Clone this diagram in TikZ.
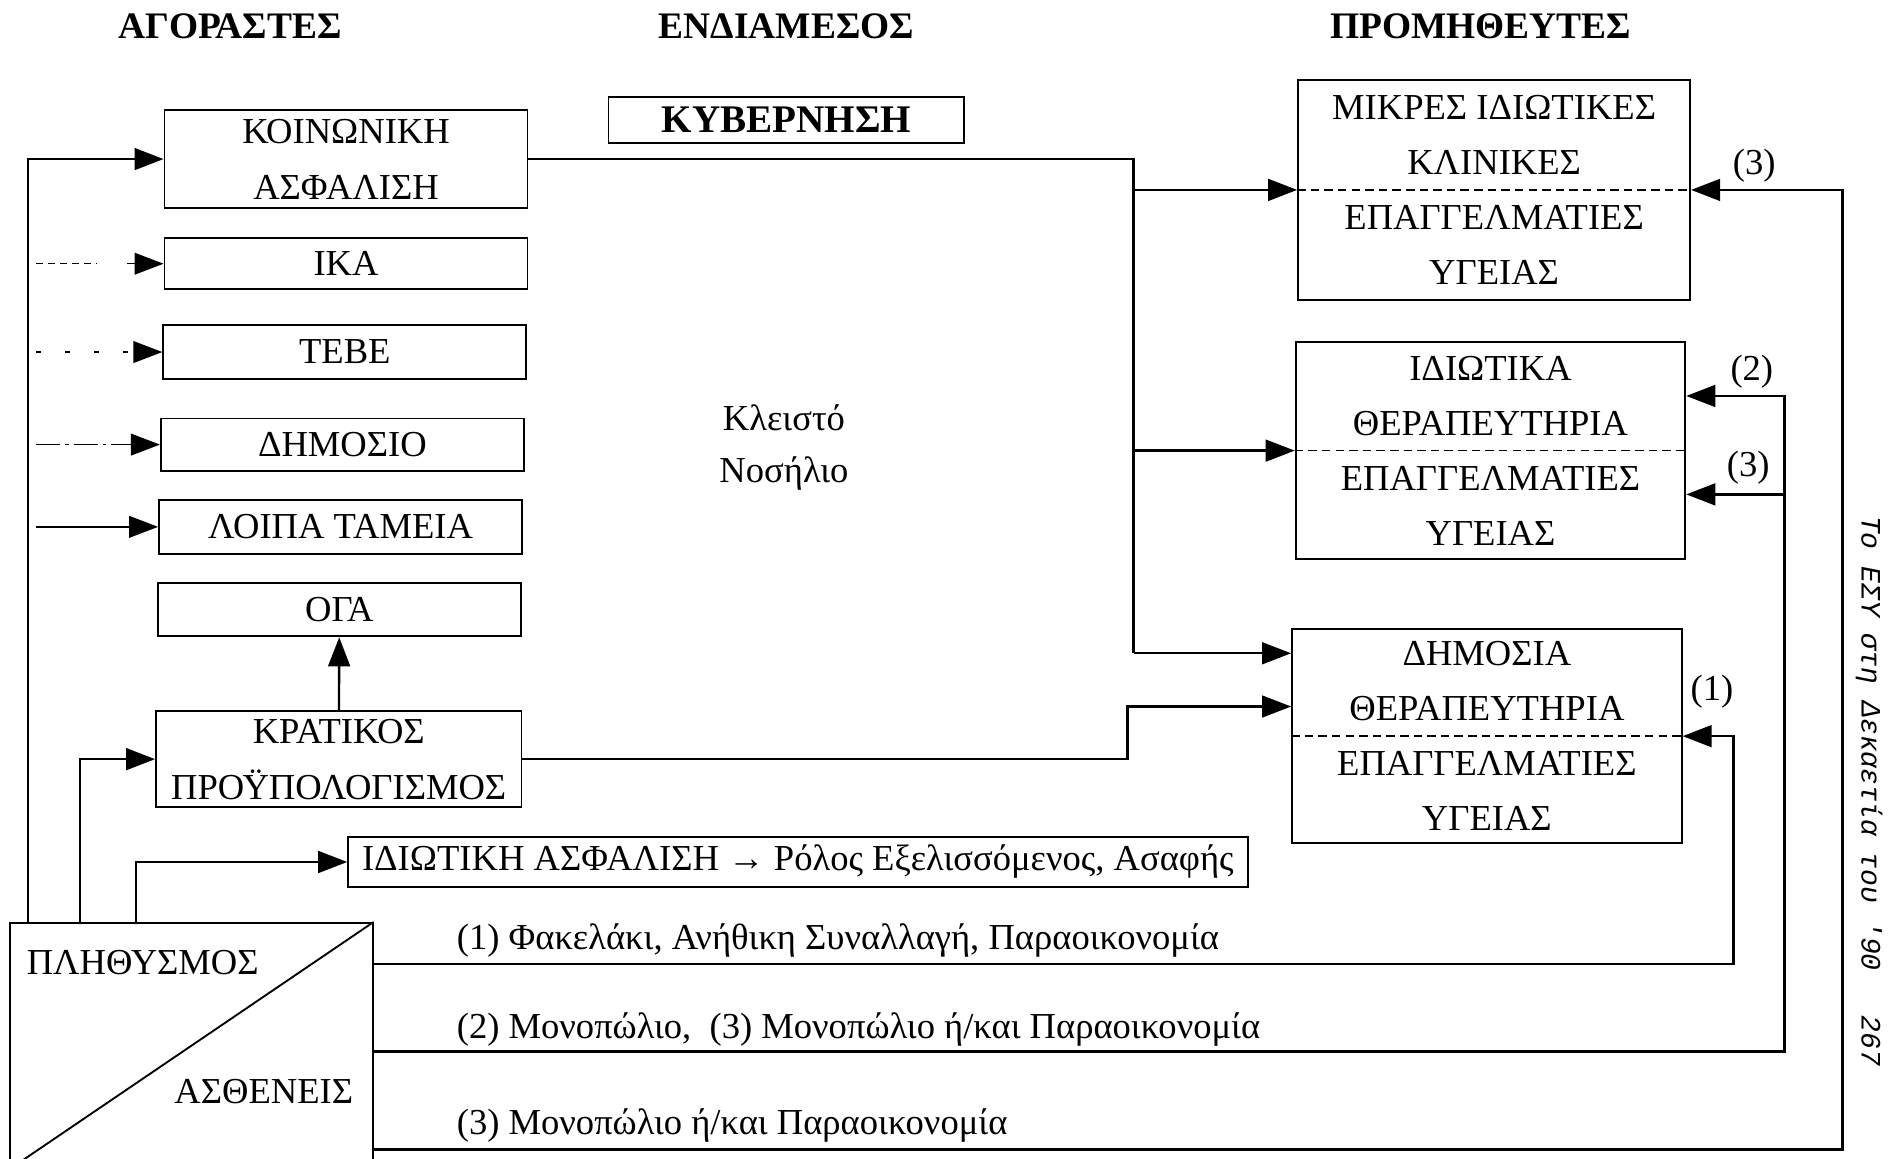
\documentclass[tikz,border=0pt]{standalone}
\usepackage{fontspec}
\setmainfont{Liberation Serif}
\newfontfamily\sidefont{Liberation Mono}
\usetikzlibrary{arrows.meta, positioning, calc}
\tikzset{
  every picture/.style={line width=1.3pt},
  box/.style={draw, line width=1.1pt, align=center, inner sep=0pt, minimum width=7.5cm, minimum height=#1},
  box/.default=1.1cm,
  supbox/.style={draw, line width=1.1pt, align=center, inner sep=0pt, minimum width=8.05cm, minimum height=4.46cm, font=\fontsize{21.5}{32.4}\selectfont},
  divider/.style={dashed, line width=0.9pt, dash pattern=on 5pt off 3pt},
  arrow/.style={-{Triangle[length=6mm, width=4.5mm]}, line width=1.4pt},
  feed/.style={-{Triangle[length=6mm, width=4.5mm]}, line width=0.9pt},
  wire/.style={line width=1.4pt},
  title/.style={font=\fontsize{22}{26}\selectfont\bfseries},
  note/.style={font=\fontsize{21.5}{26}\selectfont},
}

\begin{document}
\begin{tikzpicture}[x=0.025cm, y=0.025cm, every node/.append style={font=\fontsize{21.5}{33}\selectfont}]
  \useasboundingbox (0,0) rectangle (1568,958);
  % column heads
  \node[title] (hbuy) at (190,936) {ΑΓΟΡΑΣΤΕΣ};
  \node[title] (hmid) at (650,936) {ΕΝΔΙΑΜΕΣΟΣ};
  \node[title] (hsup) at (1224,936) {ΠΡΟΜΗΘΕΥΤΕΣ};
  \node[box=0.95cm, minimum width=7.35cm, font=\fontsize{23}{26}\selectfont\bfseries] (gov) at (650,859) {ΚΥΒΕΡΝΗΣΗ};

  % buyers, top to bottom
  \node[box=2.02cm] (koin) at (286,826.5) {ΚΟΙΝΩΝΙΚΗ\\ΑΣΦΑΛΙΣΗ};
  \node[box=1.05cm] (ika) at (286,740) {ΙΚΑ};
  \node[box] (tebe) at (285,667) {ΤΕΒΕ};
  \node[box=1.08cm] (dimosio) at (283,590.5) {ΔΗΜΟΣΙΟ};
  \node[box=1.12cm] (loipa) at (281.5,522.5) {ΛΟΙΠΑ ΤΑΜΕΙΑ};
  \node[box] (oga) at (280.5,454) {ΟΓΑ};
  \node[box=1.98cm, minimum width=7.55cm] (krat) at (280,330.5) {ΚΡΑΤΙΚΟΣ\\ΠΡΟΫΠΟΛΟΓΙΣΜΟΣ};
  \node[box=1.02cm, minimum width=18.58cm] (priv) at (659.5,245.5) {ΙΔΙΩΤΙΚΗ ΑΣΦΑΛΙΣΗ → Ρόλος Εξελισσόμενος, Ασαφής};
  \node[box=5.08cm] (pop) at (158,93.5) {};
  \draw[line width=1.1pt] (pop.south west) -- (pop.north east);
  \node (popa) at (118,162) {ΠΛΗΘΥΣΜΟΣ};
  \node (popb) at (218,56) {ΑΣΘΕΝΕΙΣ};

  \node[align=center, font=\fontsize{21.5}{31}\selectfont] (closed) at (648,588) {Κλειστό\\Νοσήλιο};

  % suppliers
  \node[supbox, minimum width=8.1cm, minimum height=4.55cm] (sup1) at (1235,801) {ΜΙΚΡΕΣ ΙΔΙΩΤΙΚΕΣ\\ΚΛΙΝΙΚΕΣ\\ΕΠΑΓΓΕΛΜΑΤΙΕΣ\\ΥΓΕΙΑΣ};
  \node[supbox, minimum height=4.48cm] (sup2) at (1232,585.5) {ΙΔΙΩΤΙΚΑ\\ΘΕΡΑΠΕΥΤΗΡΙΑ\\ΕΠΑΓΓΕΛΜΑΤΙΕΣ\\ΥΓΕΙΑΣ};
  \node[supbox, minimum height=4.43cm] (sup3) at (1229,349.5) {ΔΗΜΟΣΙΑ\\ΘΕΡΑΠΕΥΤΗΡΙΑ\\ΕΠΑΓΓΕΛΜΑΤΙΕΣ\\ΥΓΕΙΑΣ};
  \foreach \s in {sup1,sup2,sup3}
    \draw[divider] (\s.west) -- (\s.east);

  % money from the funds to the suppliers
  \coordinate (bus) at (937,418);
  \coordinate (kink) at (932,374);
  \draw[wire] (koin.east) -| (bus);
  \draw[arrow] (bus |- sup1.west) -- (sup1.west);
  \draw[arrow] (bus |- sup2.west) -- (sup2.west);
  \draw[arrow] (bus) -- (bus -| sup3.west);
  \draw[arrow] (krat.east) -| (kink) -- (kink -| sup3.west);
  \draw[arrow] (krat) -- (oga);

  % population pays in
  \coordinate (tap) at (30,0);
  \draw[arrow] ($(pop.north west)+(16,0)$) |- (koin.west);
  \draw[line width=0.9pt, dash pattern=on 4pt off 3pt] (tap |- ika.west) -- +(50,0);
  \draw[feed] ($(tap |- ika.west)+(75,0)$) -- (ika.west);
  \draw[feed, dash pattern=on 3pt off 14pt] (tap |- tebe.west) -- (tebe.west);
  \draw[feed, dash pattern=on 14pt off 3pt on 2pt off 3pt] (tap |- dimosio.west) -- (dimosio.west);
  \draw[feed] (tap |- loipa.west) -- (loipa.west);
  \draw[arrow] ($(pop.north west)+(59,0)$) |- (krat.west);
  \draw[arrow] ($(pop.north west)+(105,0)$) |- (priv.west);

  % patients pay the suppliers directly
  \coordinate (f1) at (1433,161);
  \coordinate (f2) at (1475,89);
  \coordinate (f3) at (1523,8);
  \coordinate (s2a) at ($(sup2.north east)!0.25!(sup2.south east)$);
  \coordinate (s2b) at ($(sup2.north east)!0.7!(sup2.south east)$);
  \draw[arrow] (pop.east |- f1) -- (f1) |- (sup3.east);
  \draw[arrow] (pop.east |- f2) -- (f2) |- (s2a);
  \draw[arrow] (f2 |- s2b) -- (s2b);
  \draw[arrow] (pop.east |- f3) -- (f3) |- (sup1.east);
  \node[note] (n1) at (1415,386) {(1)};
  \node[note] (n2) at (1448,651) {(2)};
  \node[note] (n3) at (1445,571) {(3)};
  \node[note] (n4) at (1450,821) {(3)};
  \node[note, anchor=base west] (t1) at (372,173) {(1) Φακελάκι, Ανήθικη Συναλλαγή, Παραοικονομία};
  \node[note, anchor=base west] (t2) at (372,100) {(2) Μονοπώλιο,\ \ (3) Μονοπώλιο ή/και Παραοικονομία};
  \node[note, anchor=base west] (t3) at (372,20) {(3) Μονοπώλιο ή/και Παραοικονομία};

  \node[rotate=-90, font=\sidefont\itshape\fontsize{16.5}{18}\selectfont] (side) at (1545,304) {Το ΕΣΥ στη Δεκαετία του '90\hspace{1.6em}267};
\end{tikzpicture}
\end{document}
